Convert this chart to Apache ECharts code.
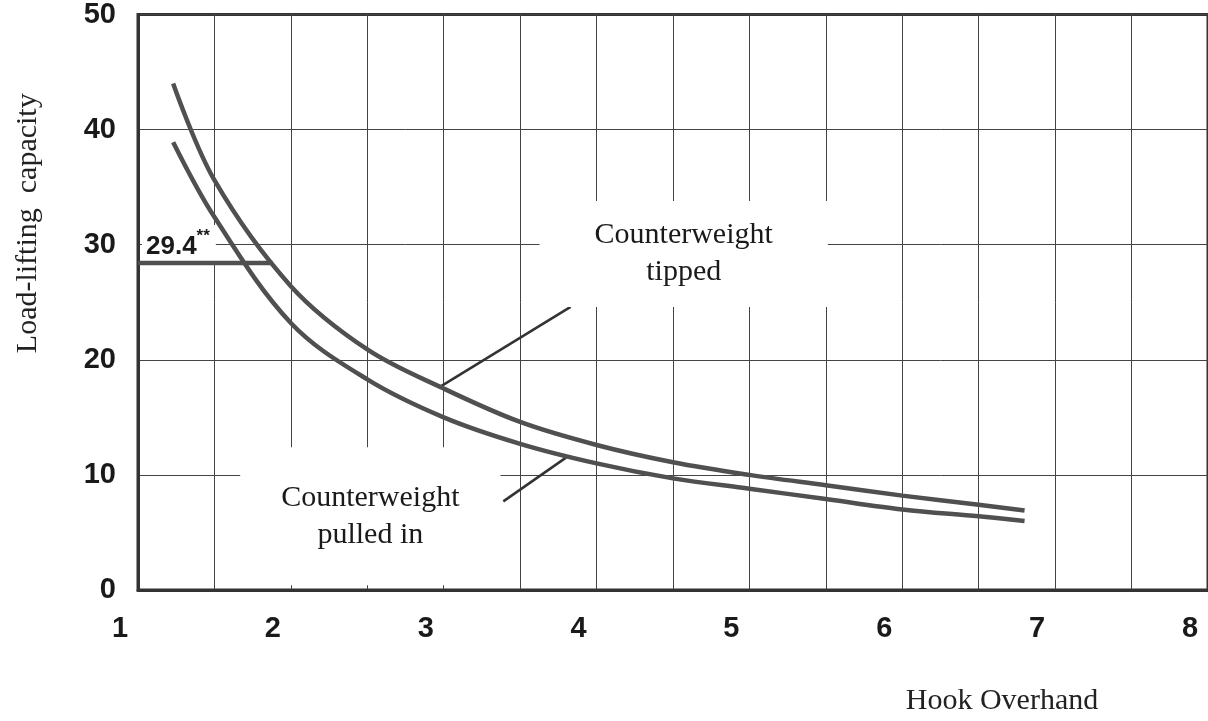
<!DOCTYPE html>
<html>
<head>
<meta charset="utf-8">
<script src="https://cdn.jsdelivr.net/npm/echarts@6/dist/echarts.min.js"></script>
<style>
  html, body { margin: 0; padding: 0; background: #fff; }
  #chart { width: 1208px; height: 721px; }
</style>
</head>
<body>
<div id="chart"></div>
<script>
// hook overhang (x) and load-lifting capacity (y)
var overhang = [1.23, 1.5, 2, 2.5, 3, 3.5, 4, 4.5, 5, 5.5, 6, 6.5, 6.8];
var tippedLoad = [44.0, 35.6, 26.4, 20.9, 17.5, 14.6, 12.6, 11.1, 10.0, 9.1, 8.2, 7.4, 6.9];
var pulledInLoad = [38.9, 32.4, 23.2, 18.3, 15.0, 12.7, 11.0, 9.7, 8.8, 7.9, 7.0, 6.4, 6.0];

// the 29.4** limit mark
var limitLevel = 28.4;
var limitEnd = 1.88;
var limitText = '29.4';

// leader lines from the captions to the curves
var tippedLeader = [[2.97, 17.6], [3.83, 24.6]];
var pulledLeader = [[3.39, 7.7], [3.8, 11.5]];
var tippedCaptionAt = [4.57, 29.2];
var pulledCaptionAt = [2.52, 6.4];

var xMin = 1, xMax = 8, xStep = 0.5;
var yMin = 0, yMax = 50, yStep = 10;

function pairs(xs, ys) {
    return xs.map(function (x, i) { return [x, ys[i]]; });
}

var serif = '"Liberation Serif", "DejaVu Serif", serif';
var narrow = '"Liberation Sans Narrow", "Arial Narrow", "Liberation Sans", sans-serif';
var curveColor = '#505050';

var myChart = echarts.init(document.getElementById('chart'));

var option = {
    backgroundColor: '#fff',
    animation: false,
    grid: {
        left: 138,
        right: -6,
        top: 12,
        bottom: 131,
        show: true,
        borderColor: '#333',
        borderWidth: 3
    },
    xAxis: {
        type: 'value',
        min: xMin,
        max: xMax,
        interval: xStep,
        name: 'Hook Overhand',
        nameLocation: 'middle',
        nameGap: 96,
        nameTextStyle: {
            fontFamily: serif,
            fontSize: 30,
            color: '#222',
            padding: [0, 0, 0, 658]
        },
        axisLine: { show: true, lineStyle: { color: '#333', width: 3 } },
        axisTick: { show: false },
        axisLabel: {
            margin: 24,
            fontFamily: narrow,
            fontWeight: 'bold',
            fontSize: 29,
            color: '#1a1a1a',
            padding: [0, 36, 0, 0],
            formatter: function (v) {
                return Number.isInteger(v) ? String(v) : '';
            }
        },
        splitLine: { show: true, lineStyle: { color: '#444', width: 1 } }
    },
    yAxis: {
        type: 'value',
        min: yMin,
        max: yMax,
        interval: yStep,
        name: 'Load-lifting  capacity',
        nameLocation: 'middle',
        nameGap: 95,
        nameTextStyle: {
            fontFamily: serif,
            fontSize: 30,
            color: '#222',
            padding: [0, 0, 0, 158]
        },
        axisLine: { show: true, lineStyle: { color: '#333', width: 3 } },
        axisTick: { show: false },
        axisLabel: {
            margin: 22,
            fontFamily: narrow,
            fontWeight: 'bold',
            fontSize: 29,
            color: '#1a1a1a'
        },
        splitLine: { show: true, lineStyle: { color: '#444', width: 1 } }
    },
    series: [
        {
            name: 'Counterweight tipped',
            type: 'line',
            data: pairs(overhang, tippedLoad),
            smooth: 0.35,
            showSymbol: false,
            lineStyle: { color: curveColor, width: 4.5 },
            z: 4
        },
        {
            name: 'Counterweight pulled in',
            type: 'line',
            data: pairs(overhang, pulledInLoad),
            smooth: 0.35,
            showSymbol: false,
            lineStyle: { color: curveColor, width: 4.5 },
            z: 4
        },
        {
            name: 'limit',
            type: 'line',
            data: [[xMin, limitLevel], [limitEnd, limitLevel]],
            showSymbol: false,
            lineStyle: { color: curveColor, width: 4.5 },
            z: 6
        },
        {
            name: 'leader tipped',
            type: 'line',
            data: tippedLeader,
            showSymbol: false,
            lineStyle: { color: '#333', width: 2.5 },
            z: 3
        },
        {
            name: 'leader pulled',
            type: 'line',
            data: pulledLeader,
            showSymbol: false,
            lineStyle: { color: '#333', width: 2.5 },
            z: 3
        },
        {
            name: 'captions',
            type: 'scatter',
            symbolSize: 0,
            silent: true,
            z: 5,
            itemStyle: { opacity: 1 },
            label: {
                show: true,
                position: 'inside',
                fontFamily: serif,
                fontSize: 30,
                lineHeight: 37,
                color: '#1a1a1a',
                backgroundColor: '#fff'
            },
            data: [
                {
                    value: tippedCaptionAt,
                    label: { formatter: 'Counterweight\ntipped', padding: [18, 55, 14, 55] }
                },
                {
                    value: pulledCaptionAt,
                    label: { formatter: 'Counterweight\npulled in', padding: [30, 41, 34, 41] }
                },
                {
                    value: [xMin, limitLevel],
                    label: {
                        position: [4, -38],
                        padding: [3, 6, 0, 4],
                        formatter: '{n|' + limitText + '}{s|**}',
                        rich: {
                            n: { fontFamily: narrow, fontWeight: 'bold', fontSize: 26, color: '#1a1a1a' },
                            s: { fontFamily: narrow, fontWeight: 'bold', fontSize: 17, color: '#1a1a1a', verticalAlign: 'top' }
                        }
                    }
                }
            ]
        }
    ]
};

myChart.setOption(option);
</script>
</body>
</html>
